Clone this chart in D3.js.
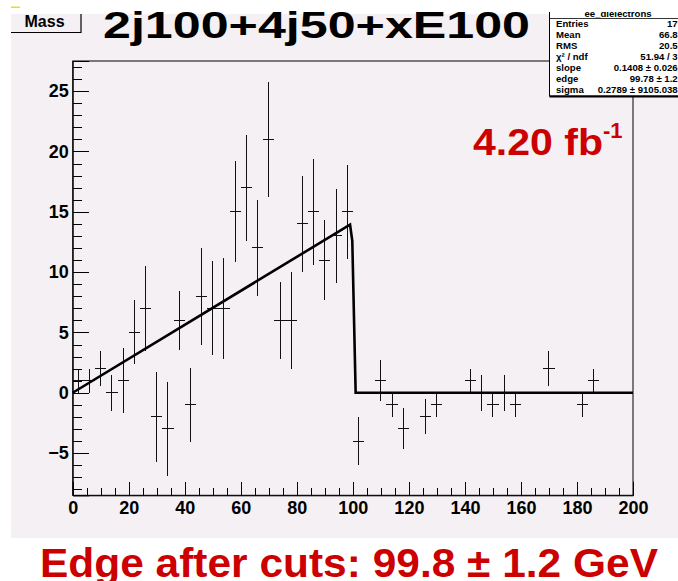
<!DOCTYPE html>
<html>
<head>
<meta charset="utf-8">
<script src="https://cdn.jsdelivr.net/npm/d3@7"></script>
<style>
    body { margin: 0; background: #ffffff; }
    svg { display: block; font-family: "Liberation Sans", Arial, Helvetica, sans-serif; }
    .tick text { font-weight: bold; font-size: 18px; fill: #000; }
    .stat { font-size: 9.6px; font-weight: bold; fill: #000; }
</style>
</head>
<body>
<div id="chart"></div>
<script>
// histogram bins (centre of each 4-wide bin), content and error
const binCenters = [2, 6, 10, 14, 18, 22, 26, 30, 34, 38, 42, 46, 50, 54, 58, 62, 66, 70, 74, 78,
    82, 86, 90, 94, 98, 102, 106, 110, 114, 118, 122, 126, 130, 134, 138, 142, 146, 150, 154, 158,
    162, 166, 170, 174, 178, 182, 186, 190, 194, 198];
const binValues = [1, 1, 2, 0, 1, 5, 7, -2, -3, 6, -1, 8, 7, 7, 15, 17, 12, 21, 6, 6,
    14, 15, 11, 13, 15, -4, 0, 1, -1, -3, 0, -2, -1, 0, 0, 1, 0, -1, 0, -1,
    0, 0, 2, 0, 0, -1, 1, 0, 0, 0];
const binErrors = [1, 1, 1.45, 1.5, 2.7, 2.65, 3.5, 3.75, 3.9, 2.45, 3.05, 4, 3.9, 4.2, 4.2, 4.4, 4, 4.75, 3.2, 4,
    4, 4.4, 3.3, 3.9, 3.9, 2, 0, 1.7, 1, 1.7, 0, 1.45, 1, 0, 0, 1, 1.5, 1, 1.5, 1,
    0, 0, 1.45, 0, 0, 1, 1, 0, 0, 0];
const binWidth = 4;

// fit curve
const fitX = [0, 99, 99.8, 101, 200];
const fitY = [0, 13.94, 12.6, 0, 0];

// axes
const xDomain = [0, 200];
const yDomain = [-8.5, 27.5];
const xMajorTicks = [0, 20, 40, 60, 80, 100, 120, 140, 160, 180, 200];
const yMajorTicks = [-5, 0, 5, 10, 15, 20, 25];

// stats box
const statLabels = ["Entries", "Mean", "RMS", "χ² / ndf", "slope", "edge", "sigma"];
const statValues = ["170", "66.83", "20.52", "51.94 / 37", "0.1408 ± 0.0263", "99.78 ± 1.22", "0.2789 ± 9105.0383"];

function renderChart() {
    const width = 678;
    const height = 581;
    const padColor = "#f4f0f4";
    const red = "#cc0000";

    const svg = d3.select("#chart").append("svg")
        .attr("width", width)
        .attr("height", height);

    // pad
    svg.append("rect")
        .attr("x", 11).attr("y", 14)
        .attr("width", width - 11).attr("height", 538 - 14)
        .attr("fill", padColor);

    const xScale = d3.scaleLinear().domain(xDomain).range([72.7, 633]);
    const yScale = d3.scaleLinear().domain(yDomain).range([495.3, 61]);

    // frame
    svg.append("rect")
        .attr("x", xScale(0)).attr("y", yScale(yDomain[1]))
        .attr("width", xScale(200) - xScale(0))
        .attr("height", yScale(yDomain[0]) - yScale(yDomain[1]))
        .attr("fill", "none")
        .attr("stroke", "#000")
        .attr("stroke-width", 1);

    // y axis: minor then major
    svg.append("g")
        .attr("transform", `translate(${xScale(0)}, 0)`)
        .call(d3.axisLeft(yScale).tickValues(d3.range(-8, 28)).tickSize(-9).tickFormat(""))
        .call(g => g.select(".domain").remove());
    svg.append("g")
        .attr("transform", `translate(${xScale(0)}, 0)`)
        .call(d3.axisLeft(yScale).tickValues(yMajorTicks).tickSize(-16.5).tickPadding(4).tickFormat(d3.format("d")))
        .call(g => g.select(".domain").attr("stroke", "#000"));

    // x axis: minor then major
    svg.append("g")
        .attr("transform", `translate(0, ${yScale(yDomain[0])})`)
        .call(d3.axisBottom(xScale).tickValues(d3.range(0, 201, 5)).tickSize(-7).tickFormat(""))
        .call(g => g.select(".domain").remove());
    svg.append("g")
        .attr("transform", `translate(0, ${yScale(yDomain[0])})`)
        .call(d3.axisBottom(xScale).tickValues(xMajorTicks).tickSize(-13.5).tickPadding(6).tickFormat(d3.format("d")))
        .call(g => g.select(".domain").attr("stroke", "#000"));

    svg.selectAll(".tick line").attr("stroke", "#000").attr("shape-rendering", "crispEdges");

    // error bars
    const points = binCenters.map((c, i) => ({ c: c, v: binValues[i], e: binErrors[i] }));
    const marks = svg.append("g")
        .attr("stroke", "#111")
        .attr("stroke-width", 1)
        .attr("shape-rendering", "crispEdges");
    marks.selectAll(".ebar")
        .data(points.filter(d => d.e > 0))
        .join("line")
        .attr("x1", d => xScale(d.c)).attr("x2", d => xScale(d.c))
        .attr("y1", d => yScale(d.v - d.e)).attr("y2", d => yScale(d.v + d.e));
    marks.selectAll(".hbar")
        .data(points)
        .join("line")
        .attr("x1", d => xScale(d.c - binWidth / 2)).attr("x2", d => xScale(d.c + binWidth / 2))
        .attr("y1", d => yScale(d.v)).attr("y2", d => yScale(d.v));

    // fit
    svg.append("path")
        .datum(fitX.map((x, i) => [x, fitY[i]]))
        .attr("fill", "none")
        .attr("stroke", "#000")
        .attr("stroke-width", 2.6)
        .attr("d", d3.line()
            .x(function (d) { return xScale(d[0]); })
            .y(function (d) { return yScale(d[1]); })
        );

    // "Mass" title box
    svg.append("rect")
        .attr("x", 11).attr("y", 14).attr("width", 70).attr("height", 18)
        .attr("fill", padColor);
    svg.append("path")
        .attr("d", "M81,14 V32.5 H11")
        .attr("fill", "none").attr("stroke", "#000").attr("stroke-width", 1.2);
    svg.append("text")
        .attr("x", 24.5).attr("y", 27)
        .attr("font-size", 16).attr("font-weight", "bold")
        .text("Mass");
    svg.append("rect")
        .attr("x", 11).attr("y", 6.5).attr("width", 9).attr("height", 1.5)
        .attr("fill", "#f0e000");

    // big title
    svg.append("text")
        .attr("x", 103).attr("y", 37.5)
        .attr("font-size", 37).attr("font-weight", "bold")
        .attr("textLength", 427).attr("lengthAdjust", "spacingAndGlyphs")
        .text("2j100+4j50+xE100");

    // stats box (cut by the top and right edges, as in the picture)
    svg.append("clipPath").attr("id", "statclip")
        .append("rect").attr("x", 540).attr("y", 12).attr("width", 140).attr("height", 90);
    const stats = svg.append("g").attr("clip-path", "url(#statclip)");
    stats.append("rect")
        .attr("x", 549.5).attr("y", 5).attr("width", 140).attr("height", 91)
        .attr("fill", "#ffffff").attr("stroke", "#000").attr("stroke-width", 1);
    stats.append("line")
        .attr("x1", 549.5).attr("x2", 690).attr("y1", 96.5).attr("y2", 96.5)
        .attr("stroke", "#000").attr("stroke-width", 2);
    stats.append("line")
        .attr("x1", 549.5).attr("x2", 690).attr("y1", 18.5).attr("y2", 18.5)
        .attr("stroke", "#000").attr("stroke-width", 0.8);
    stats.append("text").attr("class", "stat")
        .attr("x", 618).attr("y", 16.5).attr("text-anchor", "middle")
        .text("ee_dielectrons");
    statLabels.forEach((lab, i) => {
        const yy = 27 + i * 11;
        stats.append("text").attr("class", "stat")
            .attr("x", 556).attr("y", yy).text(lab);
        stats.append("text").attr("class", "stat")
            .attr("x", 683).attr("y", yy).attr("text-anchor", "end").text(statValues[i]);
    });

    // luminosity
    const lumi = svg.append("text")
        .attr("x", 473).attr("y", 155)
        .attr("font-size", 37).attr("font-weight", "bold").attr("fill", red);
    lumi.append("tspan").attr("textLength", 130).attr("lengthAdjust", "spacingAndGlyphs").text("4.20 fb");
    lumi.append("tspan").attr("dy", -17).attr("font-size", 22).text("-1");

    // bottom caption
    svg.append("text")
        .attr("x", 40).attr("y", 576.5)
        .attr("font-size", 41).attr("font-weight", "bold").attr("fill", red)
        .attr("textLength", 618).attr("lengthAdjust", "spacingAndGlyphs")
        .text("Edge after cuts: 99.8 ± 1.2 GeV");
}

renderChart();
</script>
</body>
</html>
